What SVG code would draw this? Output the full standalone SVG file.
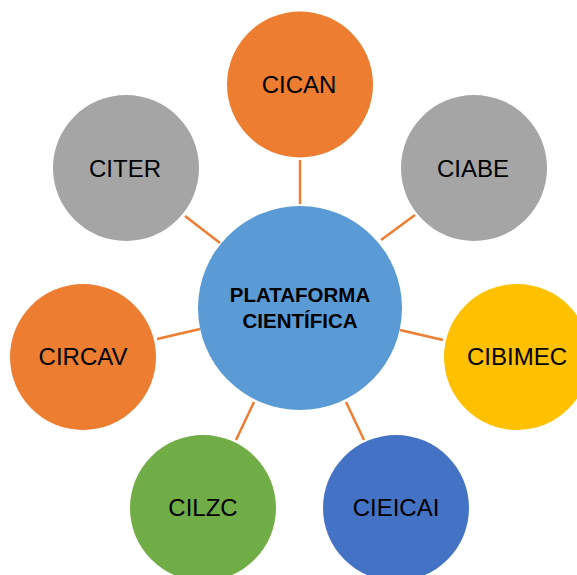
<svg xmlns="http://www.w3.org/2000/svg" width="577" height="575" viewBox="0 0 577 575">
<style>
.c{stroke:none}
.t{font-family:"Liberation Sans",Arial,sans-serif;font-size:24px;fill:#000;text-anchor:middle}
.b{font-family:"Liberation Sans",Arial,sans-serif;font-size:20.5px;font-weight:bold;fill:#000;text-anchor:middle}
#connectors line{stroke:#ED7D31;stroke-width:2.5}
</style>
<rect width="577" height="575" fill="#fff"/>
<g id="connectors">
<line x1="300" y1="160" x2="300" y2="204"/>
<line x1="415" y1="215" x2="381" y2="240"/>
<line x1="443" y1="340" x2="400" y2="330"/>
<line x1="364" y1="440" x2="346" y2="402"/>
<line x1="236" y1="440" x2="254" y2="402"/>
<line x1="157" y1="339" x2="200" y2="329"/>
<line x1="185" y1="216" x2="220" y2="243"/>
</g>
<g id="center"><circle class="c" cx="300" cy="308" r="102" fill="#5B9BD5"/><text class="b" x="300" y="302">PLATAFORMA</text><text class="b" x="300" y="328">CIENTÍFICA</text></g>
<g id="cican"><circle class="c" cx="300" cy="84.5" r="73" fill="#ED7D31"/><text class="t" x="299" y="93">CICAN</text></g>
<g id="ciabe"><circle class="c" cx="474" cy="168" r="73" fill="#A5A5A5"/><text class="t" x="473" y="177">CIABE</text></g>
<g id="cibimec"><circle class="c" cx="517" cy="357" r="73" fill="#FFC000"/><text class="t" x="517" y="365">CIBIMEC</text></g>
<g id="cieicai"><circle class="c" cx="396" cy="508" r="73" fill="#4472C4"/><text class="t" x="396" y="516">CIEICAI</text></g>
<g id="cilzc"><circle class="c" cx="203" cy="508" r="73" fill="#70AD47"/><text class="t" x="203" y="516">CILZC</text></g>
<g id="circav"><circle class="c" cx="83" cy="357" r="73" fill="#ED7D31"/><text class="t" x="83" y="365">CIRCAV</text></g>
<g id="citer"><circle class="c" cx="126" cy="168" r="73" fill="#A5A5A5"/><text class="t" x="125" y="177">CITER</text></g>
</svg>
